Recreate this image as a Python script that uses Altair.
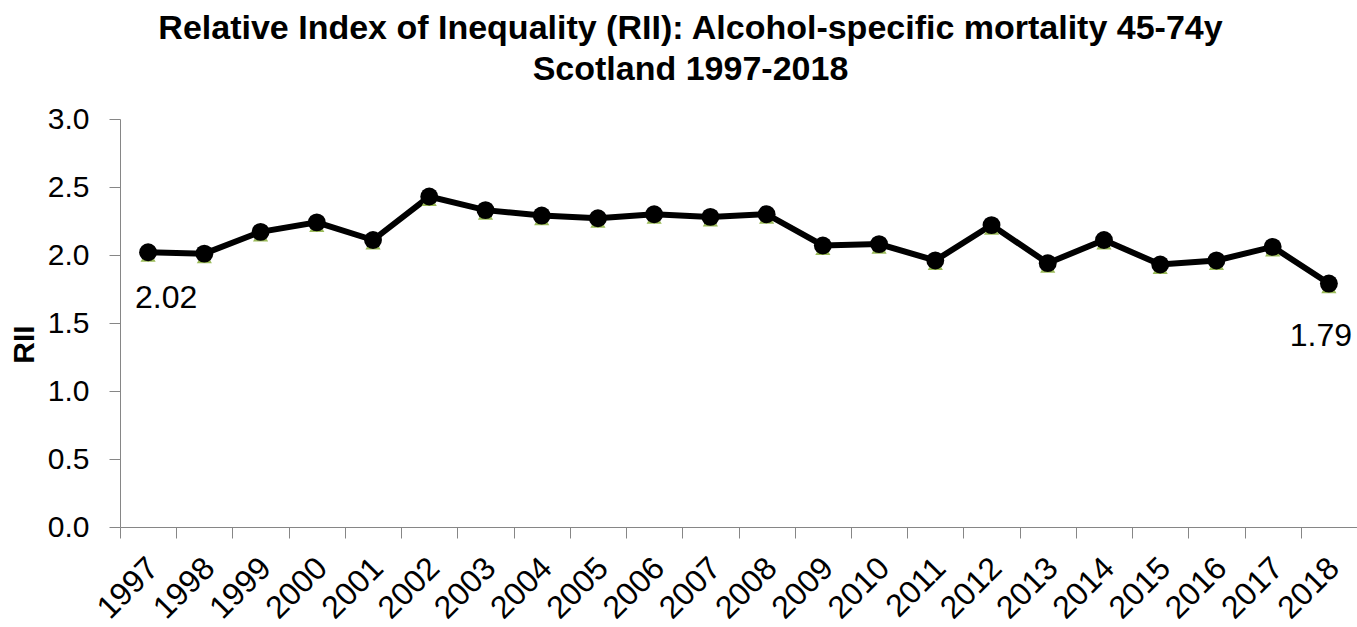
import altair as alt
import pandas as pd

years = [str(y) for y in range(1997, 2019)]
rii = [2.02, 2.01, 2.17, 2.24, 2.11, 2.43, 2.33, 2.29, 2.27, 2.30, 2.28,
       2.30, 2.07, 2.08, 1.96, 2.22, 1.94, 2.11, 1.93, 1.96, 2.06, 1.79]
label_years = ["1997", "2018"]
y_ticks = [0.0, 0.5, 1.0, 1.5, 2.0, 2.5, 3.0]

df = pd.DataFrame({"year": years, "rii": rii})
FONT = "Liberation Sans"
GREY = "#868686"

x_enc = alt.X("year:N", sort=years,
              scale=alt.Scale(paddingInner=0, paddingOuter=0),
              axis=alt.Axis(title=None, labelAngle=-45, labelFontSize=32,
                            labelFont=FONT, labelColor="black",
                            tickBand="extent", tickSize=11, tickColor=GREY,
                            domainColor=GREY, labelPadding=14, labelOffset=-6,
                            grid=False))
y_enc = alt.Y("rii:Q", scale=alt.Scale(domain=[0, 3], nice=False),
              axis=alt.Axis(title="RII", values=y_ticks, format=".1f",
                            labelFontSize=30, labelFont=FONT, labelColor="black",
                            tickSize=11, tickColor=GREY, domainColor=GREY,
                            labelPadding=20, grid=False,
                            titleFontSize=30, titleFont=FONT, titleFontWeight="bold",
                            titleColor="black", titleX=-96, titleY=225,
                            titleBaseline="middle", titleAlign="center"))

base = alt.Chart(df).encode(x=x_enc, y=y_enc)

line = base.mark_line(color="black", strokeWidth=6)
tri = base.mark_point(shape="triangle-up", filled=True, color="#9BBB59",
                      size=230, opacity=1, yOffset=3)
cross = base.mark_point(shape="M-1,-1L1,1M-1,1L1,-1", filled=False,
                        color="#8064A2", size=150, strokeWidth=1.5, opacity=1)
dots = base.mark_circle(color="black", size=320, opacity=1)

lab1 = base.transform_filter(alt.datum.year == label_years[0]).mark_text(
    fontSize=32, font=FONT, color="black", dx=18, dy=46, baseline="middle"
).encode(text=alt.Text("rii:Q", format=".2f"))
lab2 = base.transform_filter(alt.datum.year == label_years[1]).mark_text(
    fontSize=32, font=FONT, color="black", dx=-8, dy=52, baseline="middle"
).encode(text=alt.Text("rii:Q", format=".2f"))

chart = alt.layer(line, tri, cross, dots, lab1, lab2).properties(
    width=1237, height=408,
    background="white",
    autosize=alt.AutoSizeParams(type="none"),
    padding={"left": 120, "top": 119, "right": 0, "bottom": 100},
    title=alt.TitleParams(
        text=["Relative Index of Inequality (RII): Alcohol-specific mortality 45-74y",
              "Scotland 1997-2018"],
        fontSize=34, font=FONT, fontWeight="bold", color="black",
        anchor="middle", dx=-48, offset=17, lineHeight=41),
).configure_view(stroke=None, strokeWidth=0).configure_axis(grid=False)

chart.save("out.html", embed_options={"renderer": "svg", "actions": False})
